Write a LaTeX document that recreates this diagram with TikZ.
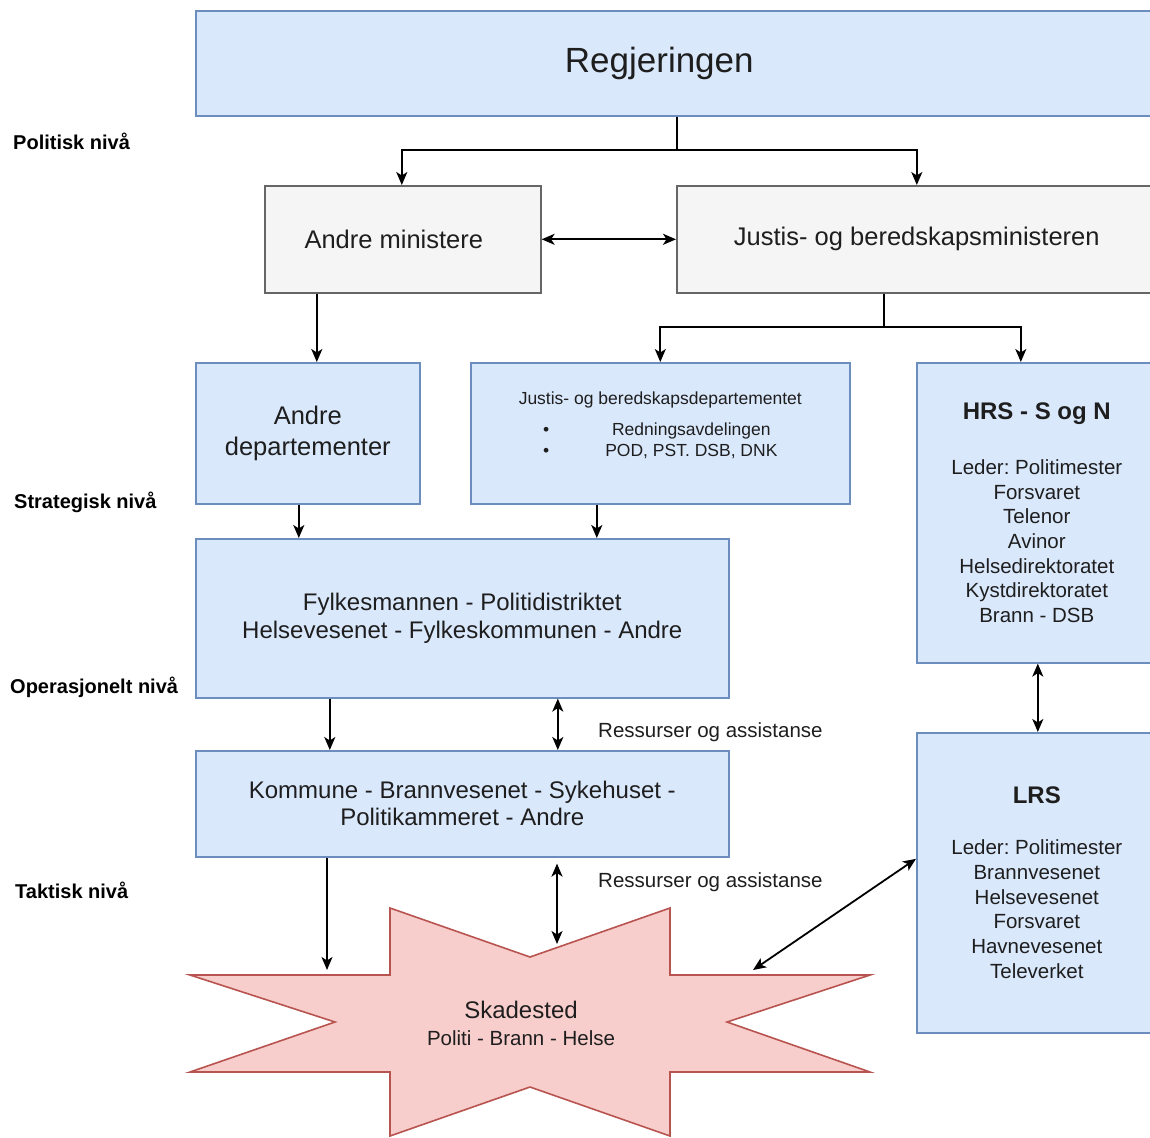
\documentclass[tikz,border=0pt]{standalone}
\usepackage{fontspec}
\setmainfont{Liberation Sans}
\usetikzlibrary{arrows.meta}
\definecolor{blueFill}{HTML}{DAE8FC}
\definecolor{blueLine}{HTML}{6C8EBF}
\definecolor{grayFill}{HTML}{F5F5F5}
\definecolor{grayLine}{HTML}{666666}
\definecolor{redFill}{HTML}{F8CECC}
\definecolor{redLine}{HTML}{B85450}
\definecolor{txt}{HTML}{1E1E1E}
\newcommand{\sizeto}[2]{\fontsize{#1}{#2}\selectfont}
\frenchspacing
\begin{document}
\begin{tikzpicture}[x=1pt,y=-1pt,
  plainbox/.style={draw, line width=1.6pt, anchor=north west, align=center, inner sep=0pt, text=txt},
  bluebox/.style={plainbox, fill=blueFill, draw=blueLine},
  graybox/.style={plainbox, fill=grayFill, draw=grayLine},
  conn/.style={line width=1.8pt, -{Stealth[length=13pt,width=11pt,inset=3.5pt]}},
  conn2/.style={line width=1.8pt, {Stealth[length=13pt,width=11pt,inset=3.5pt]}-{Stealth[length=13pt,width=11pt,inset=3.5pt]}},
  level/.style={anchor=west, font=\bfseries\sizeto{20}{24}, inner sep=0pt},
  note/.style={anchor=west, font=\sizeto{20.5}{24}, inner sep=0pt, text=txt}]
\useasboundingbox (0,0) rectangle (1150,1137);
\clip (0,0) rectangle (1150,1137);

% level labels
\node[level] (lpol) at (13,141) {Politisk nivå};
\node[level] (lstr) at (14,502) {Strategisk nivå};
\node[level] (lope) at (10,687) {Operasjonelt nivå};
\node[level] (ltak) at (15,890) {Taktisk nivå};

% boxes
\node[bluebox, minimum width=961pt, minimum height=105pt,
  label={[font=\sizeto{35}{42}, text=txt, xshift=-17pt]center:Regjeringen}] (reg) at (195,10) {};
\node[graybox, minimum width=276pt, minimum height=107pt,
  label={[font=\sizeto{25.5}{30}, text=txt, xshift=-9pt]center:Andre ministere}] (am) at (264,185) {};
\node[graybox, minimum width=480pt, minimum height=107pt, font=\sizeto{25.5}{30}] (jbm) at (676,185) {Justis- og beredskapsministeren};
\node[bluebox, minimum width=224pt, minimum height=141pt, font=\sizeto{25.5}{31}] (ad) at (195,362) {Andre\\departementer};
\node[bluebox, minimum width=379pt, minimum height=141pt, font=\sizeto{17.5}{21}] (jbd) at (470,362)
  {Justis- og beredskapsdepartementet\\[12pt]
   \begin{tabular}{@{}c@{\hspace{56pt}}c@{}}
   \textbullet & Redningsavdelingen\\
   \textbullet & POD, PST. DSB, DNK
   \end{tabular}\\[8pt]};
\node[bluebox, minimum width=240pt, minimum height=300pt, font=\sizeto{20.5}{24.7}] (hrs) at (916,362)
  {{\bfseries\sizeto{24}{28}HRS - S og N}\\[30pt]
   Leder: Politimester\\Forsvaret\\Telenor\\Avinor\\Helsedirektoratet\\Kystdirektoratet\\Brann - DSB};
\node[bluebox, minimum width=533pt, minimum height=159pt, font=\sizeto{24}{28}] (fk) at (195,538)
  {Fylkesmannen - Politidistriktet\\Helsevesenet - Fylkeskommunen - Andre};
\node[bluebox, minimum width=533pt, minimum height=106pt, font=\sizeto{24}{27}] (ko) at (195,750)
  {Kommune - Brannvesenet - Sykehuset -\\Politikammeret - Andre};
\node[bluebox, minimum width=240pt, minimum height=300pt, font=\sizeto{20.5}{24.7}] (lrs) at (916,732)
  {{\bfseries\sizeto{24}{28}LRS}\\[26pt]
   Leder: Politimester\\Brannvesenet\\Helsevesenet\\Forsvaret\\Havnevesenet\\Televerket};

% incident site
\draw[fill=redFill, draw=redLine, line width=1.6pt]
  (390,908) -- (530,957) -- (670,908) -- (670,975) -- (870,975) -- (727,1022)
  -- (870,1072) -- (670,1072) -- (670,1136) -- (530,1087) -- (390,1136)
  -- (390,1072) -- (190,1072) -- (335,1022) -- (190,975) -- (390,975) -- cycle;
\node[font=\sizeto{20.5}{27}, text=txt, align=center] (sk) at (521,1023)
  {{\sizeto{24}{27}Skadested}\\Politi - Brann - Helse};
\coordinate (sA) at (327,970);
\coordinate (sB) at (557,944);
\coordinate (sC) at (753,970);

% connectors
\coordinate (f1) at (677,150);
\draw[line width=1.8pt] (reg.south -| f1) -- (f1);
\draw[conn] (f1) -| ([xshift=-1pt]am.north);
\draw[conn] (f1) -| (jbm.north);
\draw[conn2] (am.east) -- (jbm.west);
\draw[conn] ([xshift=-86pt]am.south) -- ([xshift=-86pt]am.south |- ad.north);
\coordinate (f2) at (884,327);
\draw[line width=1.8pt] (jbm.south -| f2) -- (f2);
\draw[conn] (f2) -| (jbd.north);
\draw[conn] (f2) -| ([xshift=-16pt]hrs.north);
\draw[conn] ([xshift=-9pt]ad.south) -- ([xshift=-9pt]ad.south |- fk.north);
\draw[conn] ([xshift=-63.5pt]jbd.south) -- ([xshift=-63.5pt]jbd.south |- fk.north);
\draw[conn] ([xshift=-132.5pt]fk.south) -- ([xshift=-132.5pt]fk.south |- ko.north);
\draw[conn2] ([xshift=95.5pt]fk.south) -- ([xshift=95.5pt]fk.south |- ko.north);
\draw[conn2] ([xshift=1pt]hrs.south) -- ([xshift=1pt]lrs.north);
\draw[conn] (ko.south -| sA) -- (sA);
\draw[conn2, shorten <=6pt] (ko.south -| sB) -- (sB);
\draw[conn2] ([yshift=24pt]lrs.west) -- (sC);

\node[note] (r1) at (598,732) {Ressurser og assistanse};
\node[note] (r2) at (598,882) {Ressurser og assistanse};
\end{tikzpicture}
\end{document}
